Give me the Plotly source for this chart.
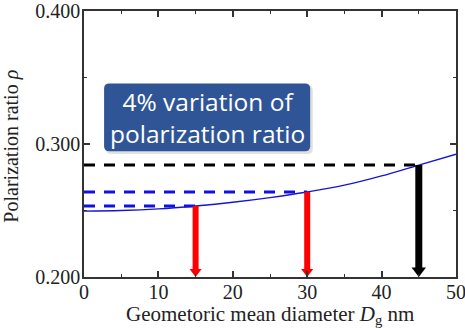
import plotly.graph_objects as go

# Data
diam = [0, 5, 10, 15, 20, 25, 30, 35, 40, 45, 50]
rho = [0.2496, 0.2500, 0.2512, 0.2534, 0.2562, 0.2597, 0.2639, 0.2690, 0.2760, 0.2842, 0.2923]

marked_d = [15, 30, 45]
marked_rho = [0.2534, 0.2639, 0.2842]
marked_line_colors = ["#1010E0", "#1010E0", "#000000"]
arrow_colors = ["#FF0000", "#FF0000", "#000000"]
arrow_widths = [6, 6, 7]

x_ticks = [0, 10, 20, 30, 40, 50]
y_ticks = [0.2, 0.3, 0.4]
y_tick_labels = ["0.200", "0.300", "0.400"]

x_title = "Geometoric mean diameter <i>D</i><sub>g</sub> nm"
y_title = "Polarization ratio <i>ρ</i>"
box_text = "4% variation of<br>polarization ratio"

W, H = 465, 328
ML, MR, MT, MB = 84, 9, 11, 51
PW, PH = W - ML - MR, H - MT - MB
Y0, Y1 = 0.2, 0.4
Y_PER_PX = (Y1 - Y0) / PH

fig = go.Figure()

# dashed horizontal guide lines
for d, r, c in zip(marked_d, marked_rho, marked_line_colors):
    fig.add_trace(go.Scatter(x=[0, d], y=[r, r], mode="lines",
                             line=dict(color=c, width=3, dash="11px,9px"),
                             showlegend=False, hoverinfo="skip"))

# curve
fig.add_trace(go.Scatter(x=diam, y=rho, mode="lines",
                         line=dict(color="#1515D0", width=1.3, shape="spline"),
                         showlegend=False))

# arrows: shaft + triangular head whose tip touches the x axis
for d, r, c, w in zip(marked_d, marked_rho, arrow_colors, arrow_widths):
    head = 2 * w - 1.5
    tip_off = head / 2 * Y_PER_PX
    fig.add_trace(go.Scatter(x=[d, d], y=[r, Y0 + 1.2 * tip_off], mode="lines",
                             line=dict(color=c, width=w), showlegend=False, hoverinfo="skip"))
    fig.add_trace(go.Scatter(x=[d], y=[Y0 + tip_off], mode="markers",
                             marker=dict(symbol="triangle-down", size=head, color=c,
                                         line=dict(width=0)),
                             showlegend=False, hoverinfo="skip", cliponaxis=False))

# rounded text box with a soft shadow
def rounded_path(x0, x1, y0, y1, rx, ry):
    return (f"M{x0+rx},{y0} L{x1-rx},{y0} Q{x1},{y0} {x1},{y0+ry} "
            f"L{x1},{y1-ry} Q{x1},{y1} {x1-rx},{y1} L{x0+rx},{y1} "
            f"Q{x0},{y1} {x0},{y1-ry} L{x0},{y0+ry} Q{x0},{y0} {x0+rx},{y0} Z")

fig.add_shape(type="path", xref="x", yref="y",
              path=rounded_path(2.95, 30.75, 0.2925, 0.3440, 0.7, 0.0038),
              fillcolor="rgba(0,0,0,0.12)", line=dict(width=0), layer="above")
fig.add_shape(type="path", xref="x", yref="y",
              path=rounded_path(2.7, 30.4, 0.2945, 0.3455, 0.7, 0.0038),
              fillcolor="#2F5597", line=dict(width=0), layer="above")
fig.add_annotation(x=16.55, y=0.3200, xref="x", yref="y", text=box_text, showarrow=False,
                   font=dict(family="Open Sans", size=24.5, color="white"), align="center")

serif = "Liberation Serif"
# axis titles placed as annotations relative to the plot area
fig.add_annotation(x=0.5, y=-(315 - (H - MB)) / PH, xref="paper", yref="paper",
                   text=x_title, showarrow=False, xanchor="center", yanchor="middle",
                   font=dict(family=serif, size=21, color="#222222"))
fig.add_annotation(x=-(ML - 12) / PW, y=0.49, xref="paper", yref="paper",
                   text=y_title, showarrow=False, textangle=-90,
                   xanchor="center", yanchor="middle",
                   font=dict(family=serif, size=20, color="#222222"))

fig.update_layout(
    width=W, height=H,
    margin=dict(l=ML, r=MR, t=MT, b=MB),
    paper_bgcolor="white", plot_bgcolor="white",
    font=dict(family=serif, size=20, color="#222222"),
)
fig.update_xaxes(range=[0, 50], tickvals=x_ticks, ticks="inside", ticklen=6, tickwidth=1.5,
                 tickcolor="#333333", showline=True, linecolor="#333333", linewidth=1.5,
                 mirror="allticks", showgrid=False, zeroline=False, automargin=False,
                 ticklabeloverflow="allow", ticklabelstandoff=-4,
                 minor=dict(dtick=5, ticks="inside", ticklen=3, tickwidth=1.2, tickcolor="#333333"),
                 tickfont=dict(family=serif, size=20))
fig.update_yaxes(range=[Y0, Y1], tickvals=y_ticks, ticktext=y_tick_labels, ticks="inside",
                 ticklen=6, tickwidth=1.5, tickcolor="#333333", showline=True,
                 linecolor="#333333", linewidth=1.5, mirror="allticks", showgrid=False,
                 zeroline=False, automargin=False, ticklabeloverflow="allow",
                 ticklabelstandoff=-2,
                 minor=dict(dtick=0.05, ticks="inside", ticklen=3, tickwidth=1.2, tickcolor="#333333"),
                 tickfont=dict(family=serif, size=20))

fig.write_html("out.html")
